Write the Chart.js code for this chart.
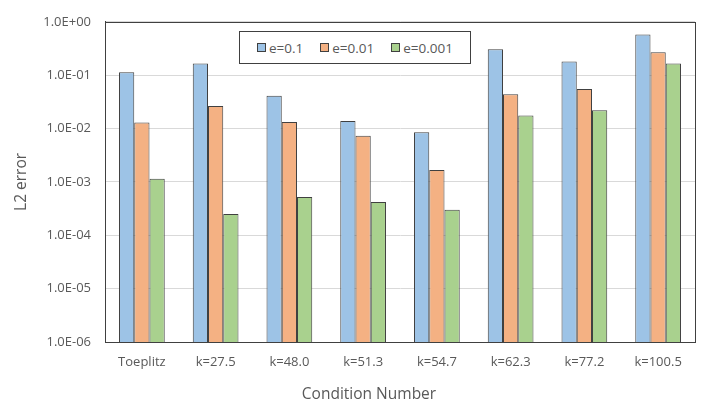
<!DOCTYPE html>
<html>
<head>
<meta charset="utf-8">
<script src="https://cdn.jsdelivr.net/npm/chart.js@4"></script>
<style>
html,body{margin:0;padding:0;background:#fff;}
#wrap{position:relative;width:718px;height:411px;}
#legend{position:absolute;left:239px;top:31px;width:230px;height:31px;border:1px solid #404040;background:#fff;
 display:flex;align-items:center;justify-content:center;gap:17px;font-family:"Open Sans",sans-serif;font-size:13.5px;color:#595959;}
#legend .it{display:flex;align-items:center;gap:3px;}
#legend .sw{width:7px;height:7px;border:1px solid #404040;}
#xtitle{position:absolute;left:296px;top:382px;width:146px;text-align:center;font-family:"Open Sans",sans-serif;font-size:15.5px;color:#595959;white-space:nowrap;}
</style>
</head>
<body>
<div id="wrap"><canvas id="c" width="718" height="411"></canvas><div id="legend"></div><div id="xtitle"></div></div>
<script>
const categories = ['Toeplitz','k=27.5','k=48.0','k=51.3','k=54.7','k=62.3','k=77.2','k=100.5'];
const seriesNames = ['e=0.1','e=0.01','e=0.001'];
const e01   = [0.114, 0.165, 0.041, 0.0139, 0.0085, 0.305, 0.18, 0.58];
const e001  = [0.013, 0.0265, 0.0133, 0.0073, 0.00168, 0.044, 0.055, 0.27];
const e0001 = [0.00114, 0.00025, 0.00052, 0.00042, 0.00030, 0.0175, 0.022, 0.165];
const yTicks = [1e-6, 1e-5, 1e-4, 1e-3, 1e-2, 1e-1, 1];
const yTickLabels = ['1.0E-06','1.0E-05','1.0E-04','1.0E-03','1.0E-02','1.0E-01','1.0E+00'];
const xTitle = 'Condition Number';
const yTitle = 'L2 error';

const colors = ['#9DC3E6','#F4B183','#A9D18E'];
const font = '"Open Sans", sans-serif';
const values = [e01, e001, e0001];

document.getElementById('xtitle').textContent = xTitle;
const legend = document.getElementById('legend');
seriesNames.forEach((n,i)=>{
  const it=document.createElement('div'); it.className='it';
  const sw=document.createElement('div'); sw.className='sw'; sw.style.background=colors[i];
  const t=document.createElement('span'); t.textContent=n;
  it.appendChild(sw); it.appendChild(t); legend.appendChild(it);
});

const borderPlugin = {
  id:'plotBorder',
  afterDraw(chart){
    const {ctx, chartArea:a} = chart;
    ctx.save(); ctx.strokeStyle='#404040'; ctx.lineWidth=1;
    ctx.strokeRect(Math.round(a.left)+0.5, Math.round(a.top)+0.5, Math.round(a.right-a.left), Math.round(a.bottom-a.top));
    ctx.restore();
  }
};

new Chart(document.getElementById('c'), {
  type:'bar',
  data:{
    labels:categories,
    datasets: seriesNames.map((n,i)=>({
      label:n, data:values[i], backgroundColor:colors[i], borderColor:'#404040', borderWidth:1,
      categoryPercentage:0.62, barPercentage:1.0
    }))
  },
  options:{
    responsive:false, animation:false,
    layout:{padding:{top:20,right:23,bottom:0,left:0}},
    plugins:{legend:{display:false}, tooltip:{enabled:false}},
    scales:{
      x:{
        grid:{display:false, drawTicks:false},
        border:{display:true,color:'#404040'},
        ticks:{color:'#595959',font:{family:font,size:13},padding:12},
        afterFit(s){ s.height = 69; }
      },
      y:{
        type:'logarithmic', min:1e-6, max:1,
        grid:{color:'#d9d9d9', drawTicks:false},
        border:{display:true,color:'#404040'},
        afterBuildTicks(s){ s.ticks = yTicks.map(v=>({value:v})); },
        ticks:{color:'#595959',font:{family:font,size:13},padding:14,
          callback:(v)=>{ const i=yTicks.findIndex(t=>Math.abs(Math.log10(t)-Math.log10(v))<1e-6); return i>=0?yTickLabels[i]:''; }},
        title:{display:true,text:yTitle,color:'#595959',font:{family:font,size:15.5},padding:{top:12,bottom:4}},
        afterFit(s){ s.width = 105; }
      }
    }
  },
  plugins:[borderPlugin]
});
</script>
</body>
</html>
